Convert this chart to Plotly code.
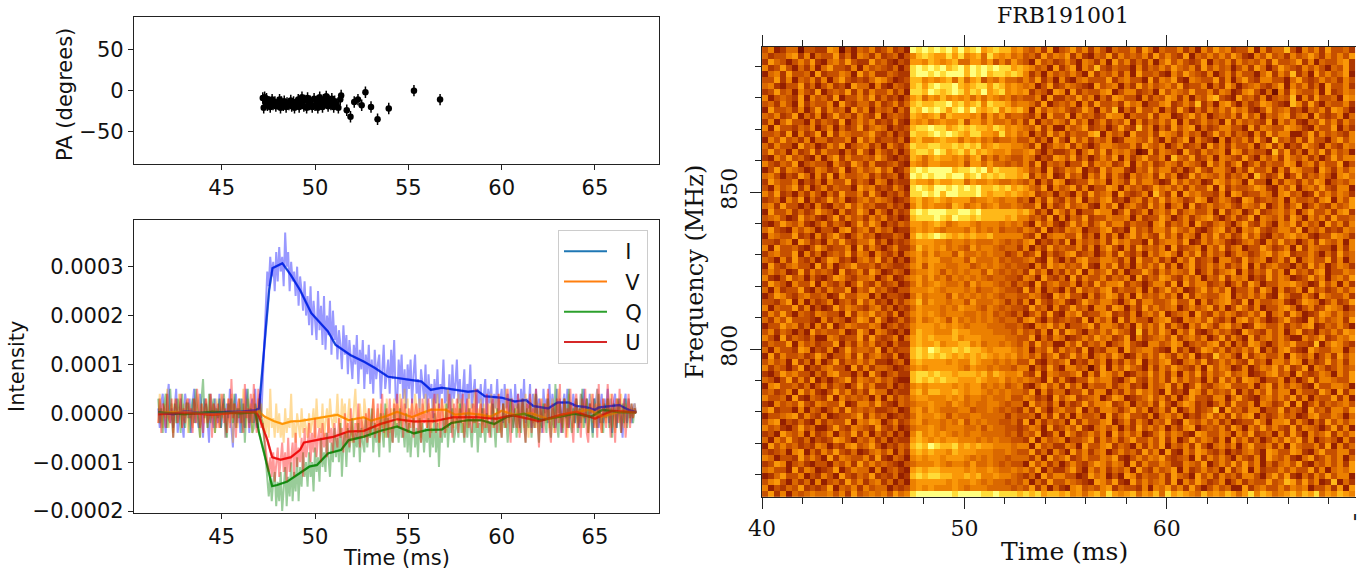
import numpy as np
import plotly.graph_objects as go

# position angle panel
pa_time = [47.2, 47.25, 47.3, 47.35, 47.4, 47.45, 47.55, 47.6, 47.7, 47.75,
           47.85, 47.9, 48.0, 48.1, 48.15, 48.2, 48.3, 48.35, 48.45, 48.5,
           48.6, 48.7, 48.75, 48.85, 48.9, 49.0, 49.1, 49.15, 49.25, 49.3,
           49.4, 49.45, 49.55, 49.6, 49.7, 49.75, 49.85, 49.95, 50.0, 50.1,
           50.15, 50.25, 50.3, 50.4, 50.45, 50.55, 50.6, 50.7, 50.75, 50.85,
           50.9, 51.0, 51.05, 51.15, 51.25, 51.35, 51.4,
           51.7, 51.9, 52.1, 52.3, 52.5, 52.7, 53.0, 53.35, 53.95, 55.3, 56.7]
pa_deg = [-9, -21, -8, -15, -10, -18, -14, -20, -11, -17,
          -14, -19, -16, -11, -21, -14, -18, -13, -20, -15,
          -17, -12, -19, -14, -21, -16, -11, -20, -14, -8,
          -19, -12, -21, -9, -17, -13, -20, -10, -18, -13,
          -21, -8, -16, -20, -11, -14, -7, -19, -12, -17,
          -10, -20, -13, -17, -21, -11, -6,
          -24, -32, -14, -11, -18, -2, -20, -35, -22, 0, -11]

# raw profiles, one sample every 0.08 ms from 41.6 ms, in units of 1e-5
raw_i = [1, -3, 2, 4, -1, -4, 3, 6, -2, 1, -3, 2, 5, -4, 0, 3, -2, -5, 4, 1,
         -1, 3, -4, 2, 5, -2, 0, -3, 4, 1, -5, 3, 2, -1, -6, 4, 1, -3, 3, 0,
         -2, 4, -3, 1, 3, -5, 2, -1, 5, -3, -7, 2, 4, -2, 1, -4, 3, 0, -3, 5,
         2, -4, 1, 3, -2, 5, -3, 0, 4, -1, 6, 14, 20, 29, 26, 32, 28, 31, 25, 33,
         27, 34, 29, 32, 26, 37, 30, 33, 25, 31, 27, 29, 24, 30, 22, 28, 25, 21, 27, 20,
         24, 18, 26, 16, 23, 19, 15, 25, 17, 22, 14, 24, 13, 20, 16, 23, 12, 21, 15, 18,
         11, 17, 14, 9, 18, 12, 16, 8, 15, 11, 7, 14, 10, 16, 6, 13, 9, 15, 5, 12,
         8, 14, 6, 11, 4, 13, 7, 10, 12, 3, 9, 14, 5, 8, 11, 4, 13, 7, 15, 3,
         2, 11, 6, 12, 3, 9, 1, 10, 5, 11, 2, 8, 12, 4, 7, 1, 9, 6, 3, 10,
         0, 8, 3, 6, -1, 7, 2, 9, 1, 6, 4, 11, 2, 5, 1, 8, -1, 10, 3, 6,
         11, 2, 7, 0, 5, 9, -1, 6, 3, 10, 1, 4, 7, -1, 5, 2, 6, 0, 4, 7,
         -1, 5, 2, 6, -2, 4, 1, 7, 0, 3, 5, -2, 6, 1, 4, -1, 5, 2, -3, 6,
         1, 4, -3, 5, 0, 7, -2, 3, 1, 6, -3, 4, 0, 5, -2, 3, 1, -4, 5, 0,
         3, -2, 6, -1, 4, 1, -3, 5, 0, 3, -4, 2, 4, -1, 5, -3, 2, 0, 4, -2,
         3, 0, -3, 4, 1, 5, -2, 3, -1, 4, 0, -4, 3, 2, 5, -3, 1, 4, -2, 3,
         0, 5, -2, 3, -4, 2, 4, -3, 1, 3, -1, -5, 2, 4, -2, 3, 0, -2, 1, 2,
         0]
raw_v = [-2, 4, 1, -3, 2, -1, 5, -3, 0, 2, -4, 3, 1, -2, 4, 0, -3, 2, -1, 3,
         -4, 2, 0, -3, 3, 1, -2, 4, -5, 2, 1, -2, 3, -3, 0, 4, -1, 2, -4, 3,
         1, -3, 4, -1, 2, -5, 0, 3, -2, 4, -6, 2, 1, -3, 3, 0, -2, 5, -1, -3,
         3, -1, 2, -4, 4, 0, -2, 3, -1, 2, -3, -1, -4, 1, -5, 5, -3, -1, -5, 2,
         -4, 0, -5, -2, -6, 1, -4, -1, -3, 4, -5, -2, -6, 0, -3, -5, 1, -4, -1, -3,
         -5, 0, -4, -2, 1, -5, 3, -3, -1, -4, 2, -5, -2, 1, -4, 3, -1, -3, 0, -2,
         4, -2, -4, 3, -1, 2, -5, 0, 3, -3, -6, 1, 5, -2, -4, 2, -1, -5, 3, 0,
         -3, 1, -5, -1, 3, -2, -4, 1, -6, 2, -3, 0, -5, 3, -2, -4, 1, -1, 3, -3,
         2, -2, 4, -3, -1, 5, -2, 3, -4, 0, 2, -3, 4, 1, -2, 3, -5, 2, -1, 4,
         -3, 2, 0, -4, 3, 1, -2, 4, -3, 0, 3, -1, 2, -4, 5, -2, 0, 3, -3, 1,
         -2, 4, -1, 3, -4, 2, 0, -3, 4, -1, 2, -2, 5, -3, 1, -1, 3, -4, 2, 0,
         -3, 2, -1, 4, -3, 1, 3, -2, 4, -4, 0, 2, -3, 5, -1, -2, 3, 0, -3, 2,
         1, -4, 3, -1, 2, -3, 4, 0, -5, 3, 1, -2, 4, -3, 0, 2, -4, 3, -1, 2,
         -2, 4, -3, 1, 3, -4, 2, -1, 5, -2, 0, -3, 3, 1, -5, 4, -1, 2, -3, 1,
         3, -2, 0, 4, -3, 2, -1, 3, -4, 1, 4, -2, 0, -3, 5, -1, 2, -4, 3, 0,
         -2, 3, -1, 4, -3, 1, -4, 3, 2, -2, 4, -1, -3, 2, 0, 3, -2, 1, -1, 2,
         0]
raw_q = [3, -2, 1, -4, 2, 4, -3, 0, 5, -1, -5, 2, -2, 3, 1, -4, 4, -1, -3, 2,
         2, -4, 0, 3, -2, 5, 1, -3, -5, 3, 7, -1, 2, -3, 4, -2, 0, 3, -4, 1,
         -1, 3, -3, 1, 4, -2, -5, 2, 0, 3, -2, 4, -3, 1, -1, 3, -4, 2, -6, 1,
         5, -2, 1, -4, -3, 2, 0, -3, 3, -1, -2, -6, -9, -14, -17, -13, -18, -14, -12, -19,
         -14, -18, -12, -20, -15, -11, -19, -13, -17, -10, -18, -12, -16, -9, -18, -11, -15, -8, -13, -10,
         -15, -8, -13, -10, -16, -7, -12, -9, -14, -5, -11, -8, -12, -4, -9, -13, -6, -10, -3, -9,
         -5, -10, -2, -13, -6, -4, -11, -3, -8, -5, -1, -9, -4, -7, -2, -10, -3, -6, -8, -1,
         -7, -3, -5, 1, -8, -2, -6, -3, -9, 0, -4, -7, 2, -5, -1, -8, -3, -6, 1, -5,
         -2, -6, 1, -5, -3, -7, 0, -8, -2, -9, -4, -1, -7, -3, -9, -1, -6, -2, -8, -3,
         -6, -1, -9, -3, -7, 0, -8, -2, -11, -3, -6, -1, -5, 2, -7, -2, -4, 1, -6, -3,
         -1, -5, 2, -4, -2, -6, 0, -5, 1, -3, -7, -1, -4, 0, -8, -2, -5, 1, -3, -6,
         0, -4, -2, -5, 2, -3, -7, 1, -4, -1, -5, 2, -3, 0, -6, -1, 3, -4, -2, 1,
         -5, 2, -2, -4, 3, -1, -6, 1, -3, 2, -5, 0, -3, 4, -2, -6, 1, -3, 2, -1,
         -4, 3, -2, -5, 1, -3, 6, -2, -5, 2, -1, -4, 3, 0, -3, 5, -2, -4, 1, -2,
         3, -4, 1, -2, 5, -3, -1, 3, -4, 2, -1, -5, 3, 1, -3, 4, -2, 0, -4, 2,
         -1, 3, -3, 1, -5, 2, 0, -3, 3, -1, -4, 2, -2, 3, -3, 1, -1, 2, -2, 1,
         0]
raw_u = [-2, 3, -4, 2, 1, -3, 4, -1, -2, 3, -5, 1, 3, -2, 0, 4, -3, 1, -2, 2,
         3, -1, 1, -4, 3, -2, 5, 0, -3, 2, -4, 1, 3, -2, -1, 4, -5, 2, 1, -3,
         2, -3, 0, 4, -2, 1, -4, 3, -3, 7, -1, 2, -5, 1, 3, -2, 0, -4, 6, -1,
         1, -3, 4, -2, 6, -1, -4, 5, 2, -3, -2, -5, -7, -10, -12, -9, -13, -8, -14, -10,
         -7, -13, -10, -6, -12, -8, -14, -5, -12, -8, -6, -13, -4, -11, -7, -10, -5, -13, -3, -9,
         -7, -2, -10, -4, -8, -1, -9, -5, -3, -10, -2, -7, -4, -9, -1, -6, -3, -8, -2, -5,
         -7, -1, -5, -3, -8, 0, -6, -2, -7, 1, -4, -6, -2, -5, 2, -7, -1, -3, -5, 0,
         -6, 1, -4, -2, 3, -5, -3, 2, -6, -1, 4, -4, -2, 1, -5, 3, -2, -6, 2, -1,
         4, -3, -1, 3, -5, 2, -2, -4, 1, -3, 3, -5, 0, 2, -4, 1, -6, 3, -2, 0,
         -3, 3, -5, 1, -2, 4, -4, 0, 2, -5, 3, -2, -4, 1, -3, 4, -1, -5, 2, -2,
         3, -4, 1, -2, 4, -5, 0, 3, -3, 1, -4, 2, -2, 5, -3, 0, 2, -4, 1, -3,
         4, -2, -5, 1, 3, -3, 0, -4, 4, -1, -5, 2, 0, -3, 5, -2, -6, 3, 1, -2,
         -3, 4, -5, 0, 3, -2, -6, 2, -1, 4, -4, 1, -3, 5, -2, -7, 3, 0, -4, 2,
         -1, 5, -3, -6, 2, 0, -4, 3, -2, 6, -4, -1, 3, -5, 1, -3, 5, -2, -6, 2,
         4, -3, 1, -5, 3, -1, 5, -4, -6, 2, 0, 4, -3, 2, -5, 6, -2, -4, 3, 0,
         -3, 6, -1, -5, 4, 1, -6, 3, -2, 5, -4, 0, 3, -5, 1, 4, -3, 2, -1, 1,
         0]
raw_time = [41.6 + 0.08 * i for i in range(len(raw_i))]

# smoothed profiles, units of 1e-4
smooth_i_t = [41.6, 42.4, 43, 43.8, 44.5, 45.3, 46, 46.8, 47.0, 47.27, 47.54, 47.72, 48.25, 48.7, 49.2, 49.8, 50.3, 50.7, 51.1,
              51.9, 52.6, 53.2, 53.9, 54.4, 55.2, 55.7, 56.2, 56.8, 57.5, 58.2, 58.7, 59.1, 60, 60.7,
              61.3, 61.7, 62.5, 63, 63.6, 64, 64.5, 65, 65.2, 66.3, 66.8, 67.2]
smooth_i = [0.02, -0.02, 0.04, 0.01, 0.0, 0.03, 0.03, 0.06, 0.1, 1.36, 2.52, 2.97, 3.07, 2.83, 2.52, 2.05, 1.85, 1.67, 1.4,
            1.19, 1.06, 0.93, 0.75, 0.72, 0.68, 0.65, 0.48, 0.52, 0.48, 0.44, 0.46, 0.35, 0.32, 0.24,
            0.27, 0.15, 0.10, 0.22, 0.22, 0.15, 0.13, 0.07, 0.12, 0.17, 0.07, 0.02]
smooth_v_t = [41.6, 43, 44.5, 46, 47.0, 47.3, 47.8, 48.25, 48.7, 49.2, 50.1, 51.2, 51.8, 52.6, 53, 53.8, 54.4,
              55.2, 55.7, 56.2, 57, 57.5, 58.2, 58.9, 59.4, 60, 60.7, 61.6, 62.5, 63.6, 64.7, 65.4, 66.3, 67.2]
smooth_v = [0.01, 0.03, -0.02, 0.02, 0.03, -0.07, -0.16, -0.22, -0.17, -0.16, -0.1, -0.03, -0.14, -0.08, -0.15, -0.06, 0.03,
            -0.08, 0.0, 0.07, 0.07, -0.03, 0.0, -0.03, -0.07, 0.05, -0.03, 0.0, -0.12, 0.0, 0.07, -0.07, 0.03, 0.02]
smooth_q_t = [41.6, 43, 44.5, 46, 46.8, 47.0, 47.45, 47.7, 47.95, 48.5, 49.2, 49.7, 50.1, 50.7, 51.4, 51.8, 52.6, 53.5, 54.4,
              55.3, 56, 56.8, 57.3, 58.2, 58.9, 59.6, 60.3, 61.2, 62.1, 63, 63.9, 64.8, 65.4, 66.3, 67.2]
smooth_q = [0.02, -0.02, 0.03, 0.0, 0.02, -0.4, -1.09, -1.49, -1.47, -1.4, -1.22, -1.09, -1.06, -0.82, -0.75, -0.55, -0.48, -0.36, -0.27,
            -0.41, -0.34, -0.33, -0.2, -0.14, -0.14, -0.22, -0.07, -0.01, -0.14, -0.07, -0.01, -0.07, 0.07, 0.02, 0.02]
smooth_u_t = [41.6, 43, 44.5, 46, 46.8, 47.0, 47.45, 47.7, 48.15, 48.7, 49.2, 49.4, 50.3, 51, 51.8, 52.6, 53.5, 54.4,
              55.3, 56.4, 57.4, 58.7, 59.7, 60.6, 62.0, 63.1, 64, 65, 65.9, 67.2]
smooth_u = [-0.02, 0.01, -0.03, 0.02, 0.03, -0.07, -0.55, -0.9, -0.95, -0.9, -0.75, -0.6, -0.53, -0.48, -0.37, -0.36, -0.22, -0.12,
            -0.17, -0.16, -0.08, -0.08, -0.11, -0.04, -0.16, -0.04, 0.03, -0.11, 0.05, 0.02]

# dynamic spectrum, top row first, one digit per cell
spec_rows = """
3512440332 2650314352 3523198989 8979789678 7756435261 3463525314 3352641433 5241536452 3361524473 1535263342
4233562514 3362415425 2341357876 6868567486 5645342635 4625214362 5343526353 2614353536 4215363425 3464253536
2643135362 1453632263 4213266576 5674466463 5364316342 3531542516 3524251463 5323614352 5343526334 6251433562
5236314251 4633251534 3241389898 9789798989 8867653416 2461537324 3315243536 4352635341 3526413643 2535314362
1452633416 2335416352 2432289989 8999798978 8787524153 4353162435 2516334215 3643251352 5331462537 2416353461
3362514352 5146323246 5312377565 6747467354 6443536241 5214533362 4533162546 2154336251 4632553314 6323534253
4521336241 3523164415 2143278689 8897678868 7565451362 3543216345 1426353453 6233514264 1345324615 3524163352
2363415326 1343625253 3524188798 7898687967 8565624316 5162433561 3552341635 4363352541 2563140526 4335162354
5134326153 4261335362 4231367465 7565646465 4534335162 2436351426 5331524365 2514367321 6342513437 1526334165
3425316243 3516324425 2352478778 8978678587 7645542613 4351526334 2645133562 3537241563 1423653217 5263143352
1633425136 2534163514 3414287989 8689797678 5767516354 5323641537 1426335142 6314253536 4521363452 3143526531
4352361425 1363425326 1343276567 4766656364 6344325163 3615342365 5143362551 2463513435 2635143562 4516323514
2514633152 4326135352 3252165645 6557366464 4535261435 4263513524 3615243536 1523534162 5343261535 2143635253
5163324351 3514236245 4132378898 8678787768 7565436251 1534623413 6327351426 3561423553 3162543365 4215336142
3342615236 1625433463 2413287789 8987688665 8564514263 5243367153 4163352654 2534136352 4315263551 1362534325
1536342514 4233516352 3324167556 7664656453 4453352416 3163524351 2554363152 4615320514 3526317342 5263314635
4253316341 2536134524 1532487788 7787878567 6655426135 4625313554 3352643513 5234163525 3351462513 2643153254
3634152362 5331426315 3241378879 8678686765 5644563142 2351463625 4530162543 1632534516 5243317362 4153625341
2153634215 1462533436 4213276467 6656467353 5433541326 5362413536 1524633517 4362351543 2631535264 3524136355
5324361343 3153264252 2342165466 5556366464 4343526143 4133625452 3615352354 2543163524 6135243365 1452533613
1362543125 4236135346 3512489899 9978898968 7776534162 3546132635 5214363552 4136325531 4263351526 5331642535
4531326415 2615334524 2341398989 9899789787 8776725361 2634153625 3153452635 1263543524 3517423613 6243531564
2643351324 1533624315 4132276657 6677465565 4454351426 5123364515 4263553126 3534126535 4163305254 2536513435
3153462513 5243316452 3253189879 9898989778 7867643615 3462513365 1534236453 5253361624 3346521536 1453632551
5362314253 1426335263 1324288989 7998889767 7676562341 4315263451 6323517426 1645332516 5233541563 4126353542
2341536142 3635124535 4312367567 6566645565 4553415263 2536143562 3145253635 4236513542 1652343515 3342561536
4526331315 2143635342 2423157565 5476456456 4454336152 3634521536 1453263514 5162353453 2543613524 6135325346
1633524236 4315236415 3142389899 9889989777 7776752416 4251336551 3623514536 2453351624 5136234535 1463352562
3453126342 1362534253 5231278889 8798878777 7675534261 5143623354 4515233641 3524563135 2361543526 4153526334
2136435213 5243136364 1324366567 6456654555 4545316352 1363524635 5243315624 3516324531 4632531546 2534163525
4632153541 3315624525 3412256565 4555464545 3443542613 2545133562 3163425536 4352135624 1546323553 6143523254
1543362315 2463135341 2243168789 8767676675 5555326145 5336241525 1463532635 2541536352 3635214356 4521336542
3324516423 1536324462 4132356665 5455454445 4343561324 2615343526 4533162455 3612535421 2453153634 1352643515
5163342136 4233516253 1352247565 6454364554 3442514263 4335251463 1526343516 2345153624 5133642351 6254331525
2453361524 1343625415 3241456464 5536445454 4235236142 3562341352 6324153564 1536253413 5423563562 3353142634
4315263241 3652314536 2413146566 4455364445 3433452163 1425633554 2516335241 5362341553 2634513526 1453362514
1632453316 2513463342 4322356365 5445534545 4343315264 5343621536 2415353625 1462353524 3615245331 4263513542
3534126253 4316235264 1243145565 3545455364 3434263514 2536153462 5133642535 4361352456 1524363516 3425613354
5213634142 1365324451 3512456464 5354545434 4332541632 4162533524 3516243653 2535143625 4513263541 2363514536
2643153361 5324136325 2341246456 5445364554 3424316245 3351426355 6243135526 1635523413 5264133556 4312635152
4152336214 2533614363 4213355565 4555453445 4332625143 1526343562 4335152463 5124635361 3352641523 5163423535
1365324533 4126335514 1332146455 5364545454 3443354216 4633152465 2516343535 1625433561 4353521642 2531643352
3324615142 3513426352 3142457465 5455364445 4242516324 5213643553 1462553346 3361524563 2615334521 3654135236
5143362513 1263543245 2413246555 4546554354 3433263415 2363415526 5142635345 1353462513 6425133564 1352365413
2536314325 4331625463 4251356565 4555445453 4324135262 1546233562 3251453613 4516325354 2353614526 4123653534
4253633321 5243136526 3124246456 5364545454 3442563142 3432615351 6253314562 1545363241 5635312463 2163534526
1336452415 2613543354 1342356665 6565455544 4334215463 5133462554 2416353625 3153642563 4126533524 3561243531
3524313163 4335126415 4213157665 5576655554 4435342516 2653143536 4317253641 5362135342 1643253514 6231435365
5316243241 1542336263 2351467676 6675666555 5443361425 4123536452 3615234536 2453513625 3162453531 1534623546
2433615342 3361425352 3142267667 5667756455 4543526341 1536243513 4632155346 5134356251 4265313546 3327146532
4153326513 2513634436 1423378798 7787877656 6654514362 5342613255 1634553216 2413653524 3536142563 2164335514
1625334236 4133526245 3251278787 8767676765 6564535246 2363514536 4125353642 5361327453 1624533516 4351352635
3534162415 1362435352 2134167666 6565576554 5453362143 4613253514 2536143562 1453623535 3263415536 5142363525
5243136132 4533162524 4312356566 6665465545 4435514263 1553403615 3643152536 4325163541 2513546362 3615423534
2136453314 2563314163 1342278878 7767776757 6556326154 3346152653 5124363525 1536253463 4512356341 6323541536
4313625261 3134625435 3421178787 8776667655 6454543162 5213364552 1463253526 3534152635 2654133514 1362554336
1563342413 5243136352 2413256566 6656566454 5345214635 2635143352 4523153462 5136324563 3351462535 4216335541
3423516352 1363524264 4132267577 6676566545 4544361524 4133625514 2536453162 3165253436 1425363551 5332641625
5334162143 2615343415 1524356655 5656455454 4533542316 3562345136 5123463525 1463325514 6321453536 2514336251
2153436325 4336125536 3214345565 5465454455 4344163425 1423635562 3514352631 4652313526 3351542361 6135243453
4623315143 1352634342 2341256465 4445534454 3432526314 5336142554 2463513526 1352347163 4255133624 3163425536
1334562532 5123346253 4123246556 5354455444 4243341526 2515334162 4633251453 5132463526 3561423534 1256335414
3561324215 2433615465 1352356455 4546354544 3342615243 4162533561 3525314362 1643535241 2336415562 5314263535
5342136341 1363254326 3241245565 4555445354 4332354162 3536214535 1426353514 2561343526 4153635326 2543136251
2316435152 3514362514 2413157565 6545455444 4342436125 1642353516 3535124635 4216533541 5362341526 3153462535
4153632413 2365314352 4132267656 5665554545 4433261534 5133462535 2463353625 1363542516 3524135364 6251343152
1635342325 4132563463 1324378798 7786767665 5545516342 2541633562 4315253614 3526314535 1463352516 4335261524
3234156142 5363241245 3514267676 6576665554 4543362415 3163524513 5342635162 1536532413 2453165336 5214633552
5413326353 1625433526 2143156566 5666545454 4344425163 4623533546 2135354632 3416253531 5325164352 1462353514
2365134213 3143526353 4321345556 5455464454 3433163524 1353246535 4162533542 2543613536 3635142453 6214353526
4533162541 2361354415 1342167677 6666565565 4454536142 2463153524 3516325346 1523534162 4615233535 3362514546
1246335132 5316324362 3241278788 7766767556 5543241635 5331264513 1652433526 4316352534 2553146362 1425363551
3563142415 1342635245 2413156666 6565565454 4343514263 3543216536 2163534526 1536423513 5243363476 3635127142
5132436232 3614352534 4132356565 5565455544 4434362514 2156343562 4332515463 5263135341 1624533535 4513352616
3625143454 4535263454 5364589999 9989999889 8887878677 6756467586 5674657486 7654756576 4685764567 5768465765
"""
spec_colors = ["#751000", "#942000", "#ae3800", "#c65000", "#da6800",
               "#ec8000", "#fa9808", "#ffb818", "#ffdc38", "#ffff80"]

spec_z = [[int(c) for c in row.replace(" ", "")] for row in spec_rows.strip().split("\n")]
spec_t = [40.15 + 0.2932 * i for i in range(100)]
spec_f = [895.3 - 1.911 * i for i in range(len(spec_z))]

W, H = 1370, 571


def xdom(a, b):
    return [a / W, b / W]


def ydom(top, bottom):
    return [1 - bottom / H, 1 - top / H]


def label(text, x, y, font, angle=0):
    return dict(text=text, xref="paper", yref="paper", x=x / W, y=1 - y / H, showarrow=False,
                xanchor="center", yanchor="middle", textangle=angle, font=font)


fig = go.Figure()

fig.add_trace(go.Scatter(
    x=pa_time, y=pa_deg, mode="markers", showlegend=False,
    marker=dict(color="black", size=6.5),
    error_y=dict(type="constant", value=7, color="black", thickness=1.5, width=0),
    xaxis="x", yaxis="y"))

series = [
    ("I", smooth_i_t, smooth_i, raw_i, "#1f77b4", "rgba(0,0,255,0.4)"),
    ("V", smooth_v_t, smooth_v, raw_v, "#ff7f0e", "rgba(255,165,0,0.4)"),
    ("Q", smooth_q_t, smooth_q, raw_q, "#2ca02c", "rgba(0,128,0,0.4)"),
    ("U", smooth_u_t, smooth_u, raw_u, "#d62728", "rgba(255,0,0,0.4)"),
]
# smoothed first, then the raw profiles, then the smoothed again at the same alpha
for name, st, sm, raw, col, rawcol in series:
    fig.add_trace(go.Scatter(x=st, y=np.array(sm) * 1e-4, mode="lines", name="\u00a0\u00a0" + name,
                             legendgroup=name, line=dict(color=col, width=2), xaxis="x2", yaxis="y2"))
for name, st, sm, raw, col, rawcol in series:
    fig.add_trace(go.Scatter(x=raw_time, y=np.array(raw) * 1e-5, mode="lines", legendgroup=name,
                             showlegend=False, line=dict(color=rawcol, width=2),
                             xaxis="x2", yaxis="y2"))
for name, st, sm, raw, col, rawcol in series:
    fig.add_trace(go.Scatter(x=st, y=np.array(sm) * 1e-4, mode="lines", legendgroup=name, showlegend=False,
                             line=dict(color=rawcol, width=2.5), xaxis="x2", yaxis="y2"))

n = len(spec_colors) - 1
scale = [[i / n, c] for i, c in enumerate(spec_colors)]
fig.add_trace(go.Heatmap(x=spec_t, y=spec_f, z=spec_z, colorscale=scale, zmin=0, zmax=n,
                         showscale=False, xaxis="x3", yaxis="y3"))

sans = dict(family="DejaVu Sans", size=21, color="#111")
serif = "DejaVu Serif"
serif_tick = dict(family=serif, size=22, color="#111")
serif_label = dict(family=serif, size=24, color="#111")
left_x = dict(range=[40.3, 68.43], tickvals=[45, 50, 55, 60, 65], showline=True, mirror=True,
              linecolor="#222", linewidth=1.3, ticks="outside", ticklen=5, tickcolor="#222",
              showgrid=False, zeroline=False, tickfont=sans, automargin=False)

fig.update_layout(
    width=W, height=H, margin=dict(l=0, r=0, t=0, b=0),
    paper_bgcolor="white", plot_bgcolor="white", showlegend=True,
    legend=dict(x=558 / W, y=1 - 230 / H, xanchor="left", yanchor="top", font=sans,
                bgcolor="rgba(255,255,255,0.8)", bordercolor="#ccc", borderwidth=1,
                itemwidth=43, tracegroupgap=0),
    xaxis=dict(domain=xdom(134, 659), anchor="y", **left_x),
    yaxis=dict(domain=ydom(17.3, 164), anchor="x", range=[-90, 90], tickvals=[-50, 0, 50],
               ticktext=["\u221250", "0", "50"], showline=True, mirror=True, linecolor="#222", linewidth=1.3,
               ticks="outside", ticklen=5, tickcolor="#222", showgrid=False, zeroline=False,
               tickfont=sans, automargin=False),
    xaxis2=dict(domain=xdom(134, 659), anchor="y2", **left_x),
    yaxis2=dict(domain=ydom(220, 512.7), anchor="x2", range=[-2.034e-4, 3.955e-4],
                tickvals=[-2e-4, -1e-4, 0, 1e-4, 2e-4, 3e-4],
                ticktext=["\u22120.0002", "\u22120.0001", "0.0000", "0.0001", "0.0002", "0.0003"],
                showline=True, mirror=True, linecolor="#222", linewidth=1.3, ticks="outside", ticklen=5,
                tickcolor="#222", showgrid=False, zeroline=False, tickfont=sans, automargin=False),
    xaxis3=dict(domain=xdom(762, 1356), anchor="y3", range=[40, 69.35], tick0=40, dtick=10,
                showline=True, mirror="allticks", linecolor="#222", linewidth=1.3, ticks="outside", ticklen=11,
                tickcolor="#222", showgrid=False, zeroline=False, tickfont=serif_tick, automargin=False,
                minor=dict(dtick=2, ticklen=6, ticks="outside", tickcolor="#222", showgrid=False)),
    yaxis3=dict(domain=ydom(47, 497), anchor="x3", range=[752.9, 896.2], tick0=800, dtick=50,
                showline=True, linecolor="#222", linewidth=1.3, ticks="outside", ticklen=11,
                tickcolor="#222", showgrid=False, zeroline=False, tickangle=-90,
                tickfont=serif_tick, automargin=False, ticklabelstandoff=4,
                minor=dict(dtick=10, ticklen=6, ticks="outside", tickcolor="#222", showgrid=False)),
    annotations=[
        label("FRB191001", 1063, 15, dict(family=serif, size=22, color="#111")),
        label("PA (degrees)", 65, 95, sans, -90),
        label("Intensity", 17, 367, sans, -90),
        label("Time (ms)", 396, 558, sans),
        label("Time (ms)", 1064, 551, dict(family=serif, size=25, color="#111")),
        label("Frequency (MHz)", 695, 272, serif_label, -90),
        label("'", 1355, 522, serif_tick),
    ],
)

# the page's default body margin would push the figure 8 px in and down
fig.write_html("out.html", config={"displayModeBar": False},
               post_script="document.body.style.margin='0';")
